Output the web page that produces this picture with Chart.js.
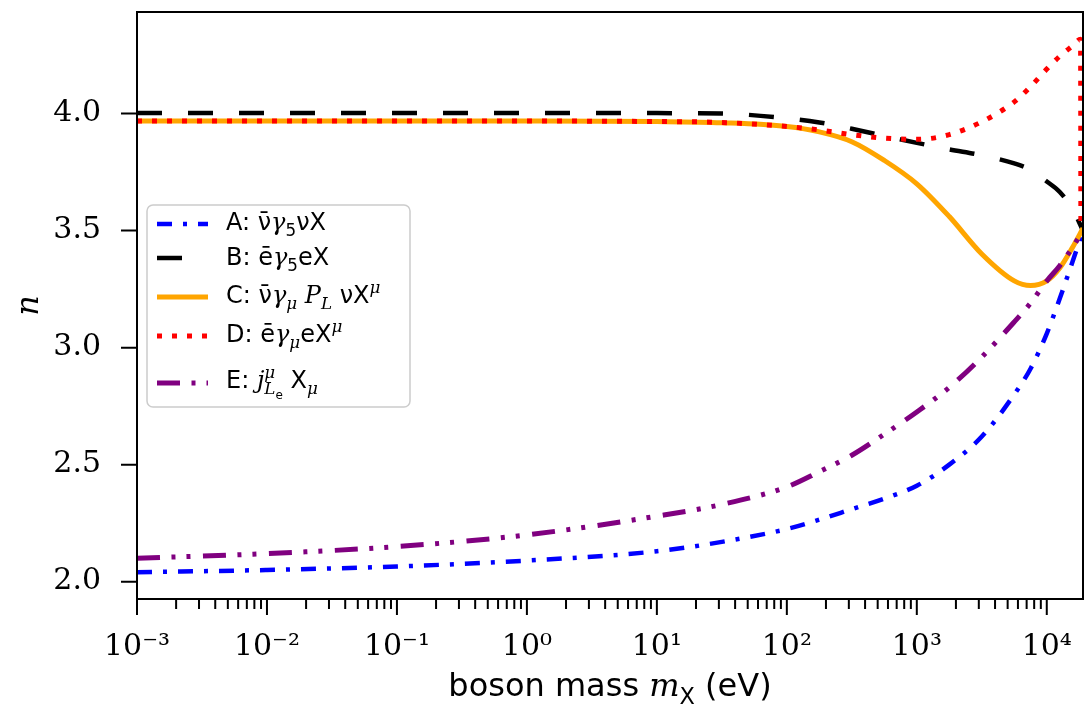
<!DOCTYPE html>
<html>
<head>
<meta charset="utf-8">
<script src="https://cdn.jsdelivr.net/npm/chart.js@4.4.1/dist/chart.umd.min.js"></script>
<style>
  html, body { margin: 0; padding: 0; background: #fff; }
  #wrap { width: 1086px; height: 713px; position: relative; }
</style>
</head>
<body>
<div id="wrap"><canvas id="myChart"></canvas></div>
<script>
// boson mass grid (eV) shared by curves A, B, C, E
const massEv = [0.001, 0.01, 0.1, 1, 10, 31.6, 100, 178, 316, 562, 1000, 1778, 3162, 5623, 7499, 10000, 12589, 15849, 19000];
const nA = [2.04, 2.05, 2.065, 2.09, 2.13, 2.17, 2.225, 2.265, 2.31, 2.355, 2.41, 2.50, 2.62, 2.80, 2.91, 3.06, 3.21, 3.37, 3.50];
const nB = [4.003, 4.003, 4.003, 4.003, 4.002, 4.0, 3.98, 3.962, 3.935, 3.905, 3.875, 3.847, 3.822, 3.787, 3.76, 3.71, 3.665, 3.59, 3.50];
const nC = [3.968, 3.968, 3.968, 3.968, 3.966, 3.961, 3.945, 3.922, 3.88, 3.80, 3.70, 3.56, 3.40, 3.285, 3.265, 3.285, 3.34, 3.43, 3.51];
const nE = [2.10, 2.12, 2.15, 2.20, 2.28, 2.33, 2.405, 2.47, 2.54, 2.63, 2.725, 2.83, 2.96, 3.11, 3.19, 3.285, 3.35, 3.43, 3.50];
// curve D has its own grid: it peaks and drops right at the end
const massD = [0.001, 0.01, 0.1, 1, 10, 31.6, 100, 178, 316, 562, 1000, 1778, 3162, 5623, 7499, 10000, 12589, 15849, 18200, 18300];
const nD = [3.968, 3.968, 3.968, 3.968, 3.966, 3.962, 3.945, 3.93, 3.91, 3.895, 3.89, 3.91, 3.965, 4.05, 4.115, 4.19, 4.245, 4.29, 4.318, 3.50];

const xMajor = [0.001, 0.01, 0.1, 1, 10, 100, 1000, 10000];
const yTicks = [2.0, 2.5, 3.0, 3.5, 4.0];
const xMin = 0.001, xMax = 19000, yMin = 1.926, yMax = 4.434;

const labels = ['A', 'B', 'C', 'D', 'E'];

const sup = { '-': '\u207B', '0': '\u2070', '1': '\u00B9', '2': '\u00B2', '3': '\u00B3', '4': '\u2074' };
const supStr = s => String(s).split('').map(c => sup[c]).join('');

// minor ticks 2..9 inside every decade
const xTicks = [];
xMajor.forEach(m => {
  xTicks.push(m);
  for (let k = 2; k <= 9; k++) if (m * k < xMax) xTicks.push(+(m * k).toPrecision(3));
});

const pts = (xs, ys) => xs.map((x, i) => ({ x: x, y: ys[i] }));

const serif = '"DejaVu Serif", serif';
const sans = '"DejaVu Sans", sans-serif';

// legend texts: runs of plain text (sans) and math (italic serif)
const legendRuns = [
  [{ t: 'A: ' }, { t: 'ν\u0304' }, { t: 'γ', m: 1 }, { t: '5', sub: 1 }, { t: 'νX' }],
  [{ t: 'B: ' }, { t: 'ē' }, { t: 'γ', m: 1 }, { t: '5', sub: 1 }, { t: 'eX' }],
  [{ t: 'C: ' }, { t: 'ν\u0304' }, { t: 'γ', m: 1 }, { t: 'μ', m: 1, sub: 1 }, { t: ' ' }, { t: 'P', m: 1 }, { t: 'L', m: 1, sub: 1 }, { t: ' νX' }, { t: 'μ', m: 1, sup: 1 }],
  [{ t: 'D: ' }, { t: 'ē' }, { t: 'γ', m: 1 }, { t: 'μ', m: 1, sub: 1 }, { t: 'eX' }, { t: 'μ', m: 1, sup: 1 }],
  [{ t: 'E: ' }, { t: 'j', m: 1 }, { t: 'μ', m: 1, sup: 1, stack: 1 }, { t: 'L', m: 1, sub: 1 }, { t: 'e', subsub: 1 }, { t: ' X' }, { t: 'μ', m: 1, sub: 1 }]
];

function drawRuns(ctx, x, y, runs, size) {
  runs.forEach(r => {
    let s = size, dy = 0;
    if (r.sub) { s = size * 0.7; dy = size * 0.25; }
    if (r.sup) { s = size * 0.7; dy = -size * 0.42; }
    if (r.subsub) { s = size * 0.5; dy = size * 0.45; }
    ctx.font = (r.m ? 'italic ' : '') + s + 'px ' + (r.m ? serif : sans);
    ctx.fillText(r.t, x, y + dy);
    if (!r.stack) x += ctx.measureText(r.t).width;
  });
  return x;
}

const noPad = s => { s.paddingTop = 0; s.paddingBottom = 0; s.paddingLeft = 0; s.paddingRight = 0; };

const decor = {
  id: 'decor',
  afterDatasetsDraw(chart) {
    const { ctx, chartArea: a, scales } = chart;
    ctx.save();
    ctx.strokeStyle = '#000';
    ctx.lineWidth = 2;
    ctx.setLineDash([]);
    ctx.strokeRect(a.left, a.top, a.right - a.left, a.bottom - a.top);
    ctx.beginPath();
    scales.x.ticks.forEach(t => {
      const px = scales.x.getPixelForValue(t.value);
      const len = xMajor.includes(t.value) ? 16 : 10;
      ctx.moveTo(px, a.bottom);
      ctx.lineTo(px, a.bottom + len);
    });
    scales.y.ticks.forEach(t => {
      const py = scales.y.getPixelForValue(t.value);
      ctx.moveTo(a.left, py);
      ctx.lineTo(a.left - 16, py);
    });
    ctx.stroke();

    // axis titles
    ctx.fillStyle = '#000';
    ctx.textBaseline = 'alphabetic';
    const xt = [{ t: 'boson mass ' }, { t: 'm', m: 1 }, { t: 'X', sub: 1 }, { t: ' (eV)' }];
    ctx.textAlign = 'left';
    const w = drawRuns(ctx, -10000, 0, xt, 32) + 10000;
    drawRuns(ctx, (a.left + a.right) / 2 - w / 2, 696, xt, 32);

    ctx.save();
    ctx.translate(38, (a.top + a.bottom) / 2);
    ctx.rotate(-Math.PI / 2);
    ctx.textAlign = 'center';
    ctx.font = 'italic 32px ' + serif;
    ctx.fillText('n', 0, 0);
    ctx.restore();

    // legend
    const bx = 147, by = 205, bw = 263, bh = 202;
    ctx.beginPath();
    ctx.roundRect(bx, by, bw, bh, 6);
    ctx.fillStyle = 'rgba(255,255,255,0.85)';
    ctx.fill();
    ctx.strokeStyle = '#cccccc';
    ctx.lineWidth = 1.5;
    ctx.stroke();
    const rowY = [224, 258, 297, 336, 383];
    const baseY = [230, 265, 303, 342, 388];
    chart.data.datasets.forEach((ds, i) => {
      ctx.beginPath();
      ctx.strokeStyle = ds.borderColor;
      ctx.lineWidth = ds.borderWidth;
      ctx.lineCap = 'butt';
      ctx.setLineDash(ds.borderDash || []);
      ctx.moveTo(157, rowY[i]);
      ctx.lineTo(208, rowY[i]);
      ctx.stroke();
      ctx.setLineDash([]);
      ctx.fillStyle = '#000';
      drawRuns(ctx, 226, baseY[i], legendRuns[i], 24);
    });
    ctx.restore();
  }
};

const ctx = document.getElementById('myChart').getContext('2d');
const myChart = new Chart(ctx, {
  type: 'line',
  data: {
    datasets: [
      { label: labels[0], data: pts(massEv, nA), borderColor: '#0000ff', borderWidth: 4.5, borderDash: [15, 11, 4, 11], order: 5 },
      { label: labels[1], data: pts(massEv, nB), borderColor: '#000000', borderWidth: 4.5, borderDash: [25, 26], order: 4 },
      { label: labels[2], data: pts(massEv, nC), borderColor: '#ffa500', borderWidth: 5, order: 3 },
      { label: labels[3], data: pts(massD, nD), borderColor: '#ff0000', borderWidth: 5, borderDash: [5, 10], order: 2 },
      { label: labels[4], data: pts(massEv, nE), borderColor: '#800080', borderWidth: 5, borderDash: [23, 11.5, 4, 11, 4, 12.5], order: 1 }
    ]
  },
  options: {
    responsive: true,
    maintainAspectRatio: false,
    animation: false,
    layout: { padding: { top: 12, right: 3, left: 0, bottom: 0 } },
    elements: {
      point: { radius: 0 },
      line: { cubicInterpolationMode: 'monotone', borderCapStyle: 'butt', fill: false }
    },
    plugins: { legend: { display: false }, tooltip: { enabled: false } },
    scales: {
      x: {
        type: 'logarithmic',
        min: xMin,
        max: xMax,
        grid: { display: false },
        border: { display: false },
        afterBuildTicks: s => { s.ticks = xTicks.map(v => ({ value: v })); },
        afterFit: s => { s.height = 114; noPad(s); },
        ticks: {
          autoSkip: false,
          maxRotation: 0,
          padding: 22,
          color: '#000',
          font: { family: 'DejaVu Serif', size: 30 },
          callback: v => xMajor.includes(v) ? '10' + supStr(Math.round(Math.log10(v))) : ''
        }
      },
      y: {
        type: 'linear',
        min: yMin,
        max: yMax,
        grid: { display: false },
        border: { display: false },
        afterBuildTicks: s => { s.ticks = yTicks.map(v => ({ value: v })); },
        afterFit: s => { s.width = 137; noPad(s); },
        ticks: {
          padding: 28,
          color: '#000',
          font: { family: 'DejaVu Serif', size: 30 },
          callback: v => v.toFixed(1)
        }
      }
    }
  },
  plugins: [decor]
});
</script>
</body>
</html>
